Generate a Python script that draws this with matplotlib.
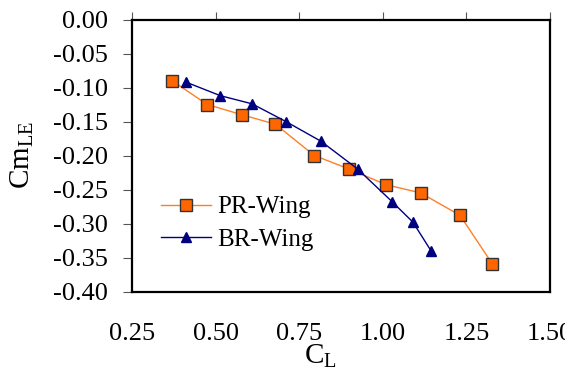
import matplotlib
matplotlib.use("Agg")
import matplotlib.pyplot as plt

# Values
pr_cl = [0.370, 0.475, 0.578, 0.679, 0.795, 0.900, 1.010, 1.113, 1.231, 1.327]
pr_cm = [-0.090, -0.125, -0.140, -0.154, -0.200, -0.220, -0.243, -0.255, -0.288, -0.359]
br_cl = [0.411, 0.514, 0.609, 0.710, 0.815, 0.925, 1.028, 1.090, 1.144]
br_cm = [-0.092, -0.112, -0.124, -0.150, -0.179, -0.220, -0.268, -0.298, -0.340]
x_ticks = [0.25, 0.50, 0.75, 1.00, 1.25, 1.50]
y_ticks = [0.00, -0.05, -0.10, -0.15, -0.20, -0.25, -0.30, -0.35, -0.40]

plt.rcParams['font.family'] = ['Liberation Serif', 'DejaVu Serif']
plt.rcParams['mathtext.fontset'] = 'custom'
plt.rcParams['mathtext.rm'] = 'Liberation Serif'

fig = plt.figure(figsize=(5.65, 3.74), dpi=100)
ax = fig.add_axes([132 / 565, 1 - 291.5 / 374, 418 / 565, 272 / 374])

ax.plot(pr_cl, pr_cm, '-', color='#FF7F27', lw=1.0, marker='s', ms=9,
        mfc='#FF6600', mec='#333333', mew=1.0, label='PR-Wing')
ax.plot(br_cl, br_cm, '-', color='#000080', lw=1.0, marker='^', ms=7.5,
        mfc='#000080', mec='#000080', label='BR-Wing')

ax.set_xlim(0.25, 1.50)
ax.set_ylim(-0.40, 0.00)
ax.set_xticks(x_ticks)
ax.set_xticklabels([f"{v:.2f}" for v in x_ticks])
ax.set_yticks(y_ticks)
ax.set_yticklabels([f"{v:.2f}" if v != 0 else "0.00" for v in y_ticks])

for s in ax.spines.values():
    s.set_linewidth(1.6)
    s.set_color('black')

ax.tick_params(axis='x', top=True, bottom=False, labeltop=False, labelbottom=True,
               direction='out', length=6, width=0.8, color='#555555',
               pad=17, labelsize=19)
ax.tick_params(axis='y', left=True, direction='out', length=6.5, width=0.8,
               color='#555555', pad=11, labelsize=19)

fig.text(320 / 565, 1 - 356 / 374, r'C$_\mathregular{L}$', fontsize=21,
         ha='center', va='center')
fig.text(22 / 565, 1 - 155 / 374, r'Cm$_\mathregular{LE}$', fontsize=21,
         ha='center', va='center', rotation=90)

ax.legend(loc='upper left', bbox_to_anchor=(161 / 565, 1 - 196 / 374),
          bbox_transform=fig.transFigure, frameon=False, fontsize=18,
          handlelength=2.0, handletextpad=0.25, labelspacing=0.4,
          borderpad=0, borderaxespad=0)

fig.savefig("out.png", dpi=100)
